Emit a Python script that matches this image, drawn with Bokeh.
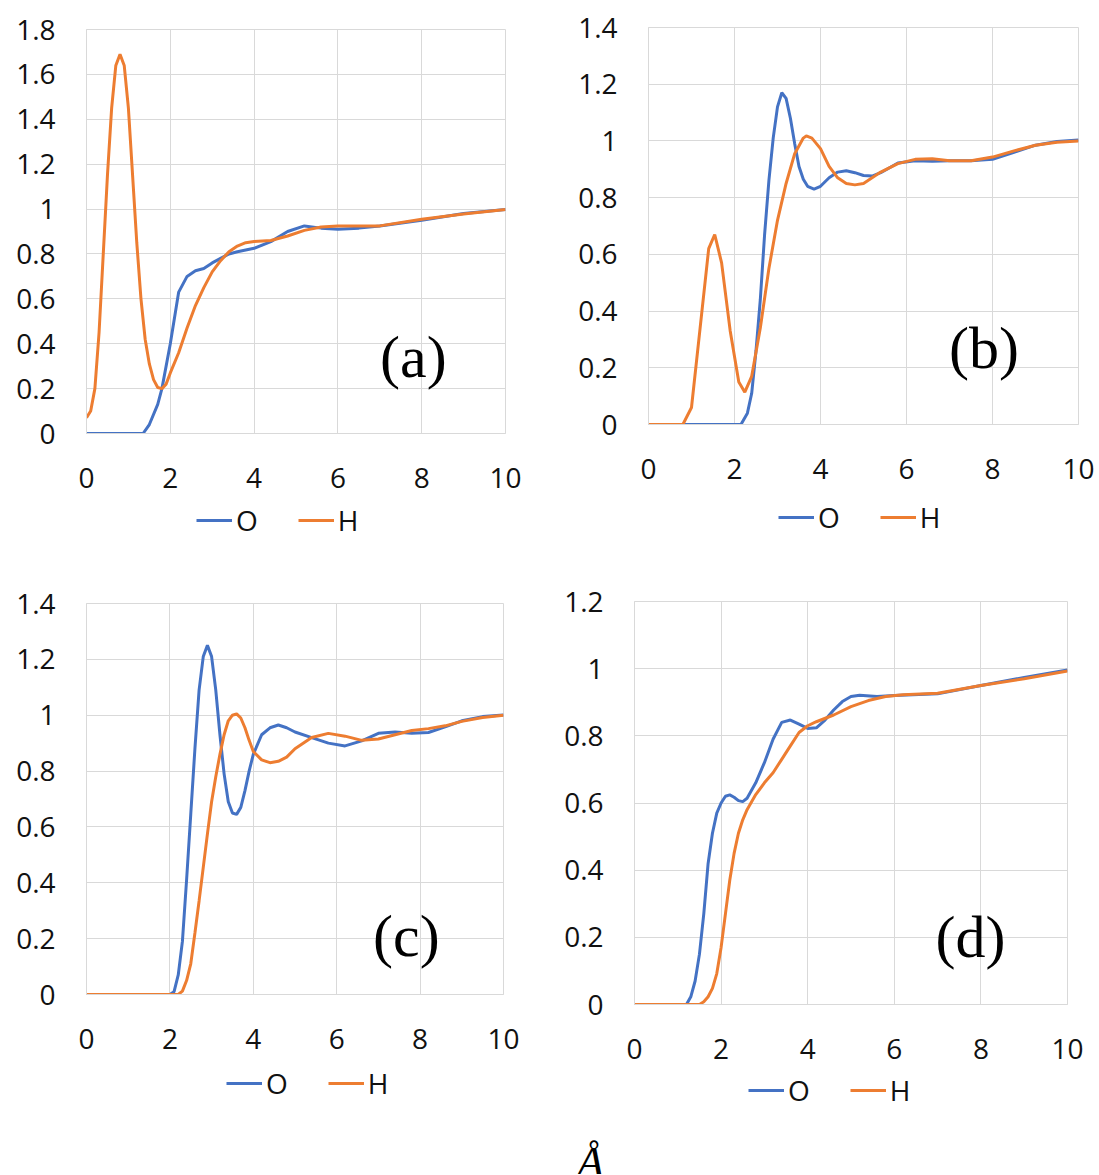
from bokeh.plotting import figure
from bokeh.models import Range1d, FixedTicker, NumeralTickFormatter, Legend, LegendItem, Label
from bokeh.layouts import column, row
from bokeh.embed import file_html
from bokeh.resources import INLINE

# ---------------- data ----------------
# panel (a)
a_H_x = [0, 0.1, 0.2, 0.3, 0.4, 0.5, 0.6, 0.7, 0.8, 0.9, 1.0, 1.1, 1.2, 1.3, 1.4, 1.5, 1.6, 1.7, 1.8, 1.9,
         2.0, 2.2, 2.4, 2.6, 2.8, 3.0, 3.2, 3.4, 3.6, 3.8, 4.0, 4.4, 4.8, 5.2, 5.6, 6.0, 7.0, 8.0, 9.0, 10.0]
a_H_y = [0.07, 0.1, 0.2, 0.45, 0.8, 1.15, 1.45, 1.64, 1.69, 1.64, 1.45, 1.15, 0.85, 0.6, 0.42, 0.31, 0.24, 0.205, 0.2, 0.22,
         0.27, 0.36, 0.47, 0.57, 0.65, 0.72, 0.77, 0.81, 0.835, 0.85, 0.855, 0.86, 0.88, 0.905, 0.92, 0.925, 0.925, 0.955, 0.978, 0.998]
a_O_x = [0, 1.35, 1.5, 1.7, 1.8, 2.0, 2.2, 2.4, 2.6, 2.8, 3.0, 3.2, 3.4, 3.6, 4.0, 4.4, 4.8, 5.2, 5.6, 6.0, 6.5, 7.0, 8.0, 9.0, 10.0]
a_O_y = [0, 0, 0.04, 0.13, 0.2, 0.4, 0.63, 0.7, 0.725, 0.735, 0.76, 0.78, 0.8, 0.81, 0.825, 0.855, 0.9, 0.925, 0.915, 0.91, 0.915, 0.925, 0.95, 0.98, 0.998]

# panel (b)
b_H_x = [0, 0.8, 1.0, 1.2, 1.4, 1.54, 1.7, 1.9, 2.1, 2.24, 2.4, 2.6, 2.8, 3.0, 3.2, 3.4, 3.6, 3.67, 3.8, 4.0, 4.2, 4.4, 4.6, 4.8,
         5.0, 5.4, 5.8, 6.2, 6.6, 7.0, 7.5, 8.0, 8.5, 9.0, 9.5, 10.0]
b_H_y = [0, 0, 0.06, 0.34, 0.62, 0.67, 0.57, 0.33, 0.15, 0.114, 0.17, 0.34, 0.55, 0.72, 0.85, 0.955, 1.01, 1.018, 1.01, 0.973, 0.91, 0.87, 0.85, 0.845,
         0.85, 0.89, 0.92, 0.935, 0.937, 0.93, 0.93, 0.943, 0.965, 0.985, 0.995, 1.0]
b_O_x = [0, 2.15, 2.3, 2.4, 2.5, 2.6, 2.7, 2.8, 2.9, 3.0, 3.1, 3.2, 3.3, 3.4, 3.5, 3.6, 3.7, 3.85, 4.0, 4.2, 4.4, 4.6, 4.8,
         5.0, 5.2, 5.4, 5.8, 6.2, 6.6, 7.0, 7.5, 8.0, 8.5, 9.0, 9.5, 10.0]
b_O_y = [0, 0, 0.04, 0.11, 0.26, 0.44, 0.67, 0.86, 1.01, 1.12, 1.17, 1.15, 1.08, 0.99, 0.91, 0.865, 0.84, 0.83, 0.84, 0.87, 0.89, 0.895, 0.888,
         0.878, 0.876, 0.888, 0.922, 0.93, 0.928, 0.93, 0.93, 0.935, 0.96, 0.985, 0.998, 1.003]

# panel (c)
c_O_x = [0, 2.0, 2.1, 2.2, 2.3, 2.4, 2.5, 2.6, 2.7, 2.8, 2.9, 3.0, 3.1, 3.2, 3.3, 3.4, 3.5, 3.6, 3.7, 3.8, 3.9, 4.0,
         4.2, 4.4, 4.6, 4.8, 5.0, 5.4, 5.8, 6.2, 6.6, 7.0, 7.4, 7.8, 8.2, 8.6, 9.0, 9.5, 10.0]
c_O_y = [0, 0, 0.01, 0.07, 0.19, 0.41, 0.645, 0.88, 1.09, 1.21, 1.25, 1.21, 1.09, 0.93, 0.79, 0.69, 0.65, 0.645, 0.67, 0.73, 0.8, 0.86,
         0.93, 0.955, 0.965, 0.955, 0.94, 0.92, 0.9, 0.89, 0.908, 0.935, 0.94, 0.935, 0.938, 0.958, 0.98, 0.995, 1.001]
c_H_x = [0, 2.2, 2.3, 2.4, 2.5, 2.6, 2.7, 2.8, 2.9, 3.0, 3.1, 3.2, 3.3, 3.4, 3.5, 3.6, 3.7, 3.8, 3.9, 4.0,
         4.2, 4.4, 4.6, 4.8, 5.0, 5.4, 5.8, 6.2, 6.6, 7.0, 7.4, 7.8, 8.2, 8.6, 9.0, 9.5, 10.0]
c_H_y = [0, 0, 0.012, 0.05, 0.11, 0.22, 0.335, 0.455, 0.575, 0.69, 0.78, 0.86, 0.93, 0.98, 1.0, 1.005, 0.99, 0.955, 0.91, 0.87,
         0.84, 0.83, 0.835, 0.85, 0.88, 0.92, 0.935, 0.925, 0.91, 0.915, 0.93, 0.945, 0.952, 0.962, 0.978, 0.992, 1.0]

# panel (d)
d_O_x = [0, 1.2, 1.3, 1.4, 1.5, 1.6, 1.7, 1.8, 1.9, 2.0, 2.1, 2.2, 2.3, 2.4, 2.5, 2.6, 2.8, 3.0, 3.2, 3.4, 3.6, 3.8,
         4.0, 4.2, 4.4, 4.6, 4.8, 5.0, 5.2, 5.6, 6.0, 7.0, 8.0, 9.0, 10.0]
d_O_y = [0, 0, 0.023, 0.07, 0.15, 0.27, 0.42, 0.51, 0.57, 0.6, 0.62, 0.624, 0.617, 0.607, 0.604, 0.614, 0.66, 0.72, 0.79, 0.84, 0.847, 0.835,
         0.822, 0.824, 0.847, 0.877, 0.902, 0.917, 0.921, 0.917, 0.92, 0.925, 0.95, 0.974, 0.996]
d_H_x = [0, 1.5, 1.6, 1.7, 1.8, 1.9, 2.0, 2.1, 2.2, 2.3, 2.4, 2.5, 2.6, 2.8, 3.0, 3.2, 3.4, 3.6, 3.8,
         4.0, 4.2, 4.6, 5.0, 5.4, 5.8, 6.2, 7.0, 8.0, 9.0, 10.0]
d_H_y = [0, 0, 0.008, 0.023, 0.048, 0.092, 0.17, 0.27, 0.37, 0.45, 0.51, 0.55, 0.58, 0.625, 0.66, 0.69, 0.73, 0.77, 0.81,
         0.83, 0.842, 0.862, 0.887, 0.905, 0.917, 0.922, 0.927, 0.95, 0.97, 0.993]

x_ticks = [0, 2, 4, 6, 8, 10]
y_ticks_a = [0, 0.2, 0.4, 0.6, 0.8, 1, 1.2, 1.4, 1.6, 1.8]
y_ticks_bc = [0, 0.2, 0.4, 0.6, 0.8, 1, 1.2, 1.4]
y_ticks_d = [0, 0.2, 0.4, 0.6, 0.8, 1, 1.2]
series_names = ["O", "H"]
panel_tags = ["(a)", "(b)", "(c)", "(d)"]
x_unit = "Å"

BLUE = "#4472C4"
ORANGE = "#ED7D31"
GRID = "#D9D9D9"
FONT = "Open Sans"
LW = 3


def make_panel(fw, fh, bl, br, bt, ymax, yticks, ox, oy, hx, hy, tag, tag_x, tag_y):
    p = figure(frame_width=fw, frame_height=fh, min_border_left=bl, min_border_right=br,
               min_border_top=bt, min_border_bottom=66,
               x_range=Range1d(0, 10), y_range=Range1d(0, ymax),
               output_backend="svg", toolbar_location=None)
    p.background_fill_color = "white"
    p.border_fill_color = "white"
    p.outline_line_color = GRID
    p.outline_line_width = 1
    p.xaxis.ticker = FixedTicker(ticks=x_ticks)
    p.yaxis.ticker = FixedTicker(ticks=yticks)
    p.yaxis.formatter = NumeralTickFormatter(format="0.[0]")
    for ax in (p.xaxis, p.yaxis):
        ax.axis_line_color = GRID
        ax.major_tick_line_color = None
        ax.minor_tick_line_color = None
        ax.major_label_text_font = FONT
        ax.major_label_text_font_size = "28px"
        ax.major_label_text_color = "#111111"
    p.yaxis.major_label_standoff = 25
    p.xaxis.major_label_standoff = 28
    p.xgrid.grid_line_color = GRID
    p.ygrid.grid_line_color = GRID

    p.line(ox, oy, line_color=BLUE, line_width=LW)
    p.line(hx, hy, line_color=ORANGE, line_width=LW)

    p.add_layout(Label(x=tag_x, y=tag_y, text=tag, text_font="Liberation Serif",
                       text_font_size="60px", text_align="center", text_baseline="middle",
                       text_color="black"))
    return p


def make_legend(w, h, ox, oy, hx, hy, lx, ly):
    q = figure(width=w, height=h, x_range=Range1d(0, 10), y_range=Range1d(0, 1),
               output_backend="svg", toolbar_location=None,
               min_border_left=0, min_border_right=0, min_border_top=0, min_border_bottom=0)
    q.axis.visible = False
    q.grid.visible = False
    q.outline_line_color = None
    q.background_fill_color = "white"
    q.border_fill_color = "white"
    rO = q.line(ox, oy, line_color=BLUE, line_width=LW, visible=False)
    rH = q.line(hx, hy, line_color=ORANGE, line_width=LW, visible=False)
    leg = Legend(items=[LegendItem(label=series_names[0], renderers=[rO]),
                        LegendItem(label=series_names[1], renderers=[rH])],
                 orientation="horizontal", location=(lx, ly),
                 glyph_width=36, glyph_height=20, label_standoff=4, spacing=40,
                 padding=0, margin=0, border_line_color=None, background_fill_alpha=0,
                 label_text_font=FONT, label_text_font_size="28px", label_text_color="#111111")
    q.add_layout(leg, "center")
    return q


pa = make_panel(419, 404, 86, 55, 29, 1.8, y_ticks_a, a_O_x, a_O_y, a_H_x, a_H_y,
                panel_tags[0], 7.8, 0.34)
pb = make_panel(430, 397, 88, 17, 27, 1.4, y_ticks_bc, b_O_x, b_O_y, b_H_x, b_H_y,
                panel_tags[1], 7.8, 0.27)
pc = make_panel(417, 391, 86, 57, 43, 1.4, y_ticks_bc, c_O_x, c_O_y, c_H_x, c_H_y,
                panel_tags[2], 7.67, 0.21)
pd = make_panel(433, 403, 74, 28, 41, 1.2, y_ticks_d, d_O_x, d_O_y, d_H_x, d_H_y,
                panel_tags[3], 7.76, 0.2)

# legend offsets are measured from each chart's frame left edge (frames align in a column)
la = make_legend(560, 61, a_O_x, a_O_y, a_H_x, a_H_y, 110, 21)
lb = make_legend(535, 70, b_O_x, b_O_y, b_H_x, b_H_y, 130, 24)
lc = make_legend(560, 60, c_O_x, c_O_y, c_H_x, c_H_y, 140, 18)
ld = make_legend(535, 50, d_O_x, d_O_y, d_H_x, d_H_y, 114, 11)

pl = figure(width=1095, height=54, x_range=Range1d(0, 1), y_range=Range1d(0, 1),
            output_backend="svg", toolbar_location=None,
            min_border_left=0, min_border_right=0, min_border_top=0, min_border_bottom=0)
pl.axis.visible = False
pl.grid.visible = False
pl.outline_line_color = None
pl.add_layout(Label(x=590, y=12, x_units="screen", y_units="screen", text=x_unit,
                    text_font="Liberation Serif", text_font_style="italic",
                    text_font_size="44px", text_align="center", text_baseline="alphabetic",
                    text_color="black"))

layout = column(row(column(pa, la), column(pb, lb)),
                row(column(pc, lc), column(pd, ld)),
                pl)
open("out.html", "w").write(file_html(layout, INLINE))
